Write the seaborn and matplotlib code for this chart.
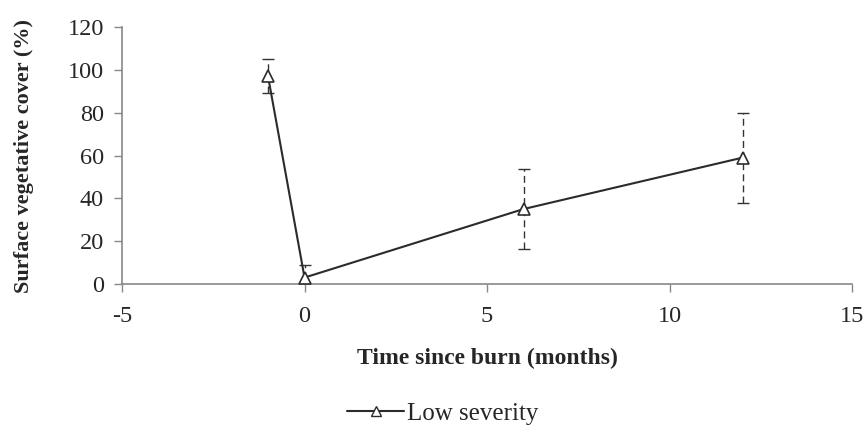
import pandas as pd
import matplotlib
matplotlib.use("Agg")
import matplotlib.pyplot as plt
import seaborn as sns
from matplotlib.lines import Line2D

months = [-1, 0, 6, 12]
cover = [97, 3, 35, 59]
cover_err = [8, 6, 18.5, 21]

data = pd.DataFrame({"months": months, "cover": cover, "err": cover_err})

sns.set_style("white")
plt.rcParams["font.family"] = ["Liberation Serif", "DejaVu Serif"]
plt.rcParams["axes.unicode_minus"] = False

fig = plt.figure(figsize=(8.68, 4.29), dpi=100)
ax = fig.add_axes([0.1406, 0.338, 0.841, 0.599])

sns.lineplot(x="months", y="cover", data=data, ax=ax, color="#2b2b2b", linewidth=1.5,
             marker="^", markersize=8, markerfacecolor="white", markeredgecolor="#2b2b2b",
             markeredgewidth=1.2, legend=False, zorder=3)
eb = ax.errorbar(data["months"], data["cover"], yerr=data["err"], fmt="none",
                 ecolor="#333333", elinewidth=1, capsize=4, capthick=1, zorder=2)
for lc in eb[2]:
    lc.set_linestyle((0, (5, 3)))

ax.set_xlim(-5, 15)
ax.set_ylim(0, 120)
ax.set_xticks([-5, 0, 5, 10, 15])
ax.set_yticks(range(0, 121, 20))
ax.tick_params(labelsize=17.5, direction="out", length=6, width=1, color="#888888",
               bottom=True, left=True)
ax.tick_params(axis="x", pad=10)
ax.tick_params(axis="y", pad=7)
for s in ["top", "right"]:
    ax.spines[s].set_visible(False)
for s in ["left", "bottom"]:
    ax.spines[s].set_color("#888888")
    ax.spines[s].set_linewidth(1.2)

ax.set_xlabel("Time since burn (months)", fontsize=17, fontweight="bold", labelpad=15)
ax.set_ylabel("Surface vegetative cover (%)", fontsize=16, fontweight="bold", labelpad=24)

handle = Line2D([], [], color="#2b2b2b", linewidth=1.5, marker="^", markersize=7,
                markerfacecolor="white", markeredgecolor="#2b2b2b")
fig.legend([handle], ["Low severity"], loc="center", bbox_to_anchor=(0.51, 0.035),
           frameon=False, fontsize=18, handlelength=2.3, handletextpad=0.1)

fig.savefig("out.png", dpi=100)
